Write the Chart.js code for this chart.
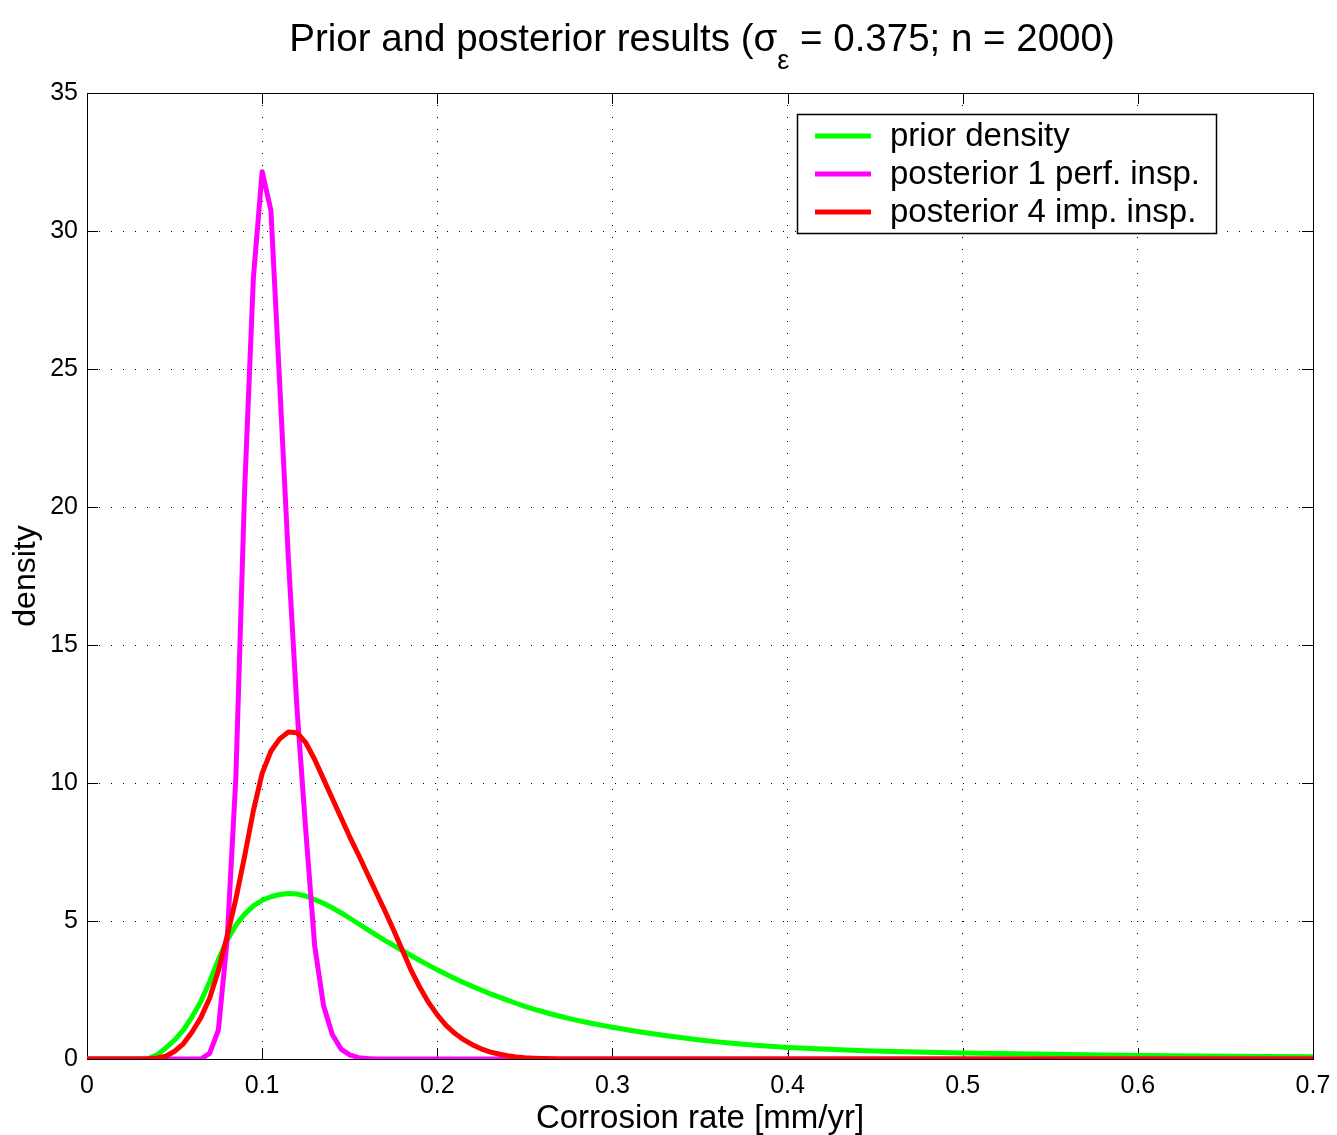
<!DOCTYPE html>
<html>
<head>
<meta charset="utf-8">
<title>Prior and posterior results</title>
<script src="https://cdn.jsdelivr.net/npm/chart.js@4.4.0/dist/chart.umd.min.js"></script>
<style>
  html, body { margin: 0; padding: 0; background: #fff; }
  canvas { display: block; }
</style>
</head>
<body>
<canvas id="densityChart" width="1337" height="1135"></canvas>
<script>
// corrosion rate grid [mm/yr]
const corrosionRate = [
  0, 0.01, 0.02, 0.03, 0.035, 0.04, 0.045, 0.05, 0.055, 0.06, 0.065, 0.07, 0.075, 0.08, 0.085,
  0.09, 0.095, 0.1, 0.105, 0.11, 0.115, 0.12, 0.125, 0.13, 0.135, 0.14, 0.145, 0.15, 0.155, 0.16,
  0.165, 0.17, 0.175, 0.18, 0.185, 0.19, 0.195, 0.2, 0.205, 0.21, 0.215, 0.22, 0.225, 0.23, 0.235,
  0.24, 0.245, 0.25, 0.255, 0.26, 0.265, 0.27, 0.275, 0.28, 0.285, 0.29, 0.295, 0.3,
  0.31, 0.32, 0.33, 0.34, 0.35, 0.36, 0.37, 0.38, 0.39, 0.4,
  0.42, 0.44, 0.46, 0.48, 0.5, 0.55, 0.6, 0.65, 0.7
];

const priorDensity = [
  0, 0, 0, 0, 0.02, 0.15, 0.4, 0.68, 1.05, 1.53, 2.08, 2.8, 3.6, 4.3, 4.85,
  5.25, 5.55, 5.75, 5.88, 5.96, 6.0, 5.98, 5.9, 5.78, 5.64, 5.48, 5.3, 5.1, 4.9, 4.7,
  4.5, 4.3, 4.12, 3.93, 3.75, 3.57, 3.4, 3.23, 3.07, 2.92, 2.77, 2.63, 2.5, 2.37, 2.25,
  2.13, 2.02, 1.91, 1.81, 1.72, 1.63, 1.55, 1.47, 1.4, 1.33, 1.27, 1.21, 1.15,
  1.04, 0.94, 0.85, 0.77, 0.69, 0.62, 0.56, 0.51, 0.46, 0.42,
  0.36, 0.31, 0.27, 0.245, 0.22, 0.17, 0.13, 0.1, 0.08
];

const posterior1Perfect = [
  0, 0, 0, 0, 0, 0, 0, 0, 0, 0, 0, 0.2, 1.05, 4.3, 10.2,
  20.6, 28.3, 32.15, 30.75, 24.5, 18.1, 12.6, 8.2, 4.1, 1.95, 0.9, 0.36, 0.15, 0.05, 0.02,
  0, 0, 0, 0, 0, 0, 0, 0, 0, 0, 0, 0, 0, 0, 0,
  0, 0, 0, 0, 0, 0, 0, 0, 0, 0, 0, 0, 0,
  0, 0, 0, 0, 0, 0, 0, 0, 0, 0,
  0, 0, 0, 0, 0, 0, 0, 0, 0
];

const posterior4Imperfect = [
  0, 0, 0, 0, 0.01, 0.04, 0.1, 0.28, 0.55, 0.98, 1.5, 2.2, 3.2, 4.45, 5.8,
  7.35, 9.0, 10.35, 11.15, 11.6, 11.85, 11.82, 11.45, 10.85, 10.15, 9.45, 8.75, 8.05, 7.4, 6.72,
  6.05, 5.38, 4.68, 3.95, 3.22, 2.6, 2.05, 1.6, 1.22, 0.93, 0.7, 0.52, 0.37, 0.26, 0.18,
  0.12, 0.07, 0.045, 0.03, 0.02, 0.01, 0, 0, 0, 0, 0, 0, 0,
  0, 0, 0, 0, 0, 0, 0, 0, 0, 0,
  0, 0, 0, 0, 0, 0, 0, 0, 0
];

const seriesLabels = ['prior density', 'posterior 1 perf. insp.', 'posterior 4 imp. insp.'];
const seriesColors = ['#00ff00', '#ff00ff', '#ff0000'];

const xTicks = [0, 0.1, 0.2, 0.3, 0.4, 0.5, 0.6, 0.7];
const xTickLabels = ['0', '0.1', '0.2', '0.3', '0.4', '0.5', '0.6', '0.7'];
const yTicks = [0, 5, 10, 15, 20, 25, 30, 35];
const yTickLabels = ['0', '5', '10', '15', '20', '25', '30', '35'];

const titleStart = 'Prior and posterior results (\u03c3';
const titleSub = '\u03b5';
const titleEnd = ' = 0.375; n = 2000)';

const FONT = '"Liberation Sans", Arial, Helvetica, sans-serif';

function toPoints(ys) {
  return corrosionRate.map((x, i) => ({ x: x, y: ys[i] }));
}

// title with the subscript epsilon
const titlePlugin = {
  id: 'subTitle',
  afterDraw(chart) {
    const ctx = chart.ctx;
    ctx.save();
    ctx.fillStyle = '#000';
    ctx.textBaseline = 'alphabetic';
    ctx.textAlign = 'left';
    ctx.font = '38.5px ' + FONT;
    const w1 = ctx.measureText(titleStart).width;
    const w3 = ctx.measureText(titleEnd).width;
    ctx.font = '27px ' + FONT;
    const w2 = ctx.measureText(titleSub).width;
    let x = 702 - (w1 + w2 + w3) / 2;
    ctx.font = '38.5px ' + FONT;
    ctx.fillText(titleStart, x, 51);
    x += w1;
    ctx.font = '27px ' + FONT;
    ctx.fillText(titleSub, x, 69);
    x += w2;
    ctx.font = '38.5px ' + FONT;
    ctx.fillText(titleEnd, x, 51);
    ctx.restore();
  }
};

// axes box and inward tick marks
const boxPlugin = {
  id: 'axesBox',
  beforeDatasetsDraw(chart) {
    const { ctx, chartArea: a, scales } = chart;
    const tl = 11;
    ctx.save();
    ctx.strokeStyle = '#000';
    ctx.lineWidth = 1;
    ctx.beginPath();
    xTicks.forEach(v => {
      const px = Math.round(scales.x.getPixelForValue(v)) + 0.5;
      ctx.moveTo(px, a.bottom); ctx.lineTo(px, a.bottom - tl);
      ctx.moveTo(px, a.top); ctx.lineTo(px, a.top + tl);
    });
    yTicks.forEach(v => {
      const py = Math.round(scales.y.getPixelForValue(v)) + 0.5;
      ctx.moveTo(a.left, py); ctx.lineTo(a.left + tl, py);
      ctx.moveTo(a.right, py); ctx.lineTo(a.right - tl, py);
    });
    ctx.stroke();
    ctx.strokeRect(Math.round(a.left) + 0.5, Math.round(a.top) + 0.5,
      Math.round(a.right - a.left), Math.round(a.bottom - a.top));
    ctx.restore();
  }
};

// boxed legend in the upper right
const legendPlugin = {
  id: 'boxLegend',
  afterDraw(chart) {
    const ctx = chart.ctx;
    ctx.save();
    ctx.fillStyle = '#fff';
    ctx.fillRect(797, 114, 419, 119);
    ctx.strokeStyle = '#000';
    ctx.lineWidth = 1.5;
    ctx.strokeRect(797.5, 114.5, 419, 119);
    ctx.font = '33px ' + FONT;
    ctx.textBaseline = 'middle';
    ctx.textAlign = 'left';
    chart.data.datasets.forEach((ds, i) => {
      const y = 136 + i * 38;
      ctx.strokeStyle = ds.borderColor;
      ctx.lineWidth = 5;
      ctx.beginPath();
      ctx.moveTo(815, y);
      ctx.lineTo(871, y);
      ctx.stroke();
      ctx.fillStyle = '#000';
      ctx.fillText(ds.label, 890, y + 1);
    });
    ctx.restore();
  }
};

const ctx = document.getElementById('densityChart').getContext('2d');
const densityChart = new Chart(ctx, {
  type: 'line',
  data: {
    datasets: [
      { label: seriesLabels[0], data: toPoints(priorDensity), borderColor: seriesColors[0], order: 2 },
      { label: seriesLabels[1], data: toPoints(posterior1Perfect), borderColor: seriesColors[1], order: 1 },
      { label: seriesLabels[2], data: toPoints(posterior4Imperfect), borderColor: seriesColors[2], order: 0 }
    ]
  },
  options: {
    responsive: false,
    animation: false,
    events: [],
    devicePixelRatio: 1,
    layout: { padding: { left: 0, right: 24, top: 93, bottom: 0 } },
    elements: {
      line: { borderWidth: 5, tension: 0, fill: false, borderJoinStyle: 'round' },
      point: { radius: 0 }
    },
    plugins: {
      legend: { display: false },
      tooltip: { enabled: false },
      title: { display: false }
    },
    scales: {
      x: {
        type: 'linear',
        min: 0,
        max: 0.7,
        afterBuildTicks: scale => { scale.ticks = xTicks.map(v => ({ value: v })); },
        afterFit: scale => { scale.height = 76; scale.paddingLeft = 0; scale.paddingRight = 0; },
        ticks: {
          color: '#000',
          font: { family: FONT, size: 25 },
          padding: 12,
          maxRotation: 0,
          callback: (v, i) => xTickLabels[i]
        },
        grid: { color: '#000', lineWidth: 1, drawTicks: false },
        border: { display: false, dash: [1, 11] },
        title: {
          display: true,
          text: 'Corrosion rate [mm/yr]',
          color: '#000',
          font: { family: FONT, size: 33, lineHeight: 1 },
          padding: { top: 0, bottom: 0 }
        }
      },
      y: {
        min: 0,
        max: 35,
        afterBuildTicks: scale => { scale.ticks = yTicks.map(v => ({ value: v })); },
        afterFit: scale => { scale.width = 87; scale.paddingTop = 0; scale.paddingBottom = 0; },
        ticks: {
          color: '#000',
          font: { family: FONT, size: 25 },
          padding: 9,
          callback: (v, i) => yTickLabels[i]
        },
        grid: { color: '#000', lineWidth: 1, drawTicks: false },
        border: { display: false, dash: [1, 11] },
        title: {
          display: true,
          text: 'density',
          color: '#000',
          font: { family: FONT, size: 32, lineHeight: 1 },
          padding: { top: 10, bottom: 0 }
        }
      }
    }
  },
  plugins: [titlePlugin, boxPlugin, legendPlugin]
});
</script>
</body>
</html>
